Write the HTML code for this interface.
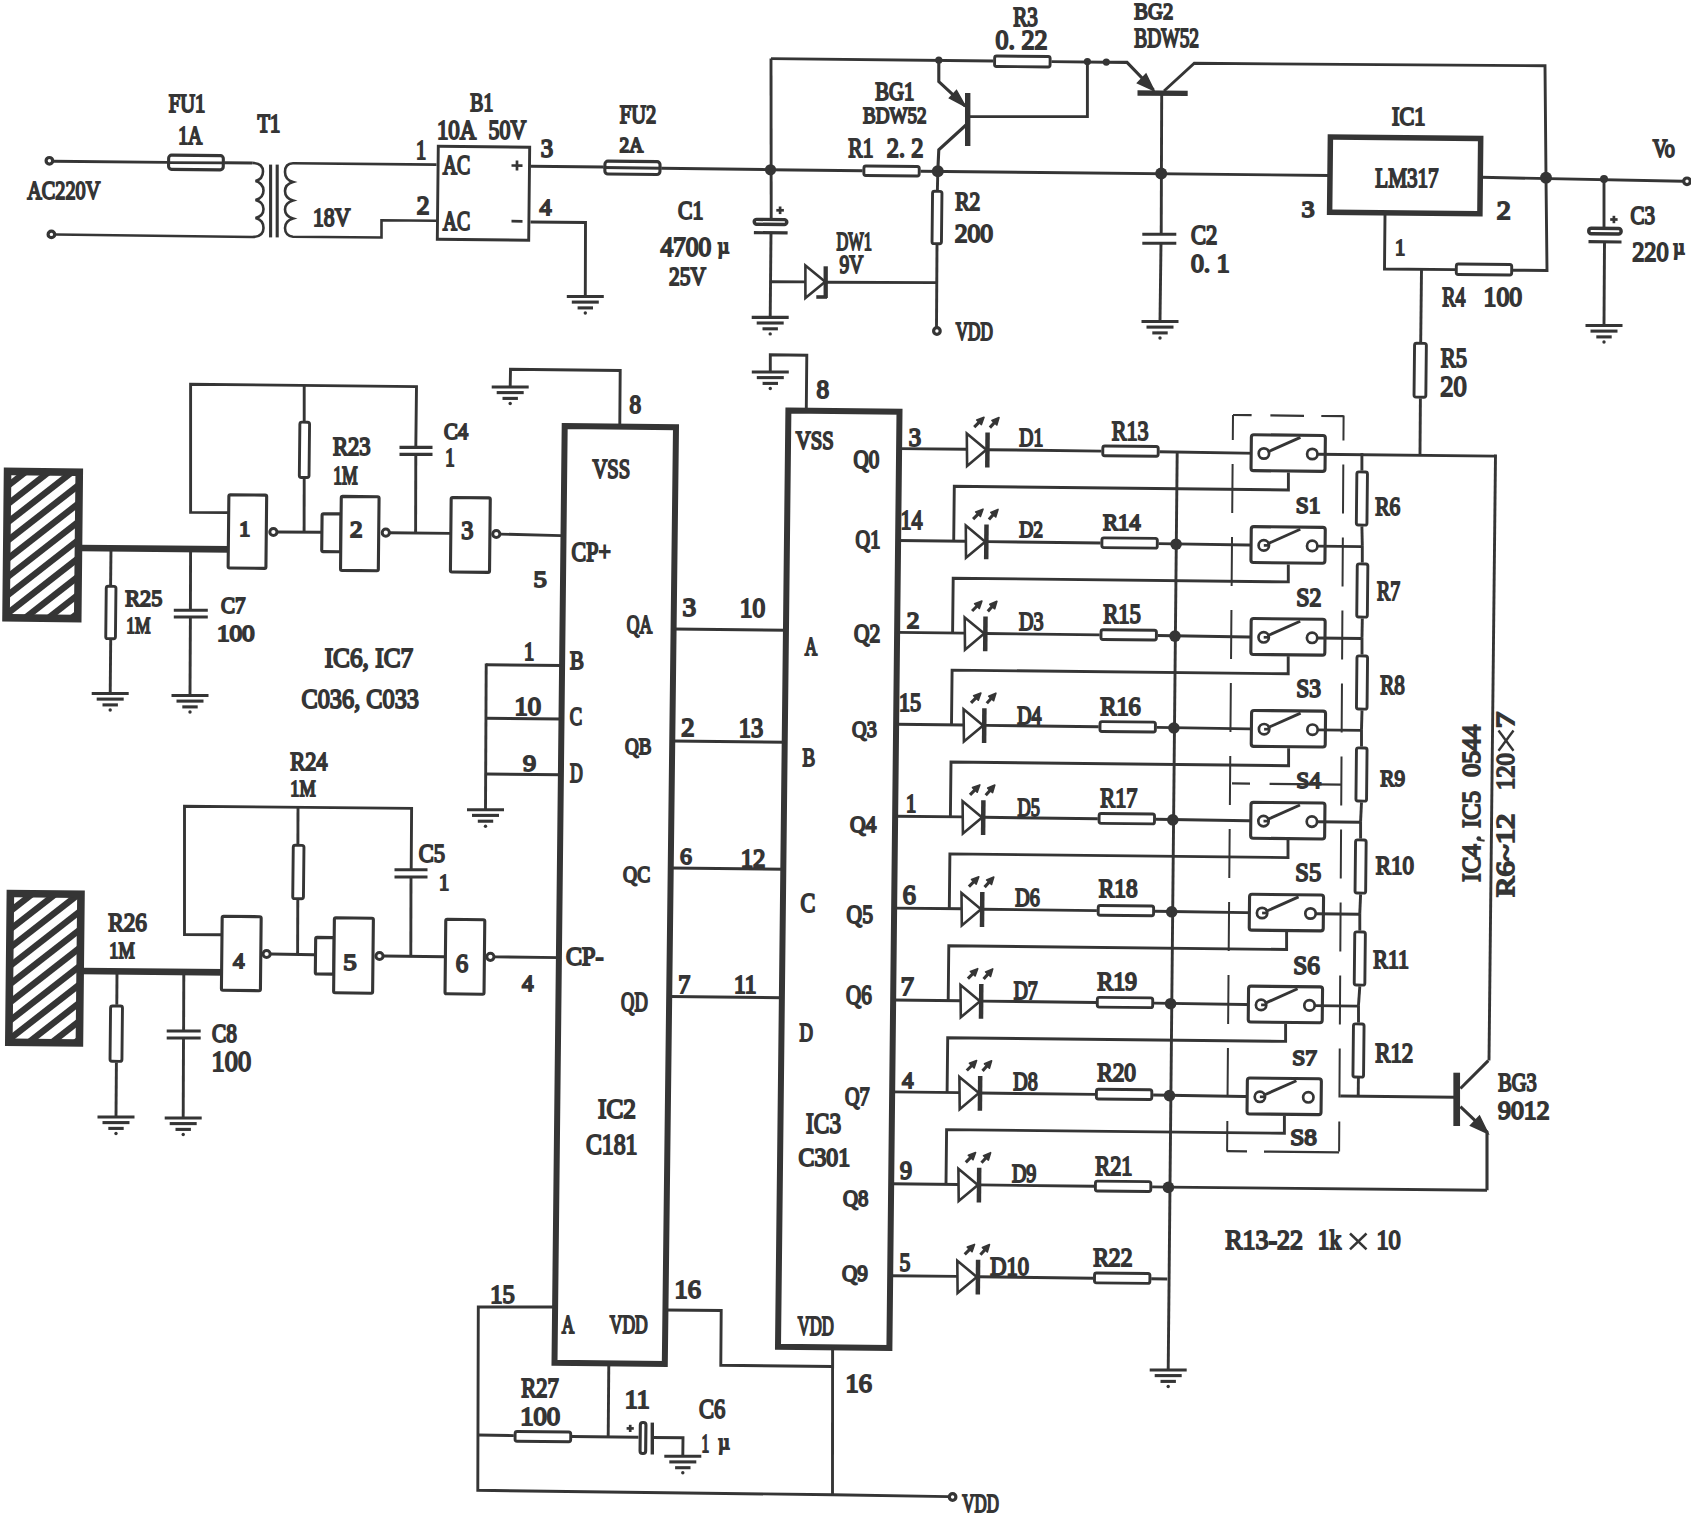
<!DOCTYPE html>
<html><head><meta charset="utf-8"><style>
html,body{margin:0;padding:0;background:#fff;}
svg{display:block;}
text{font-family:"Liberation Serif",serif;font-weight:normal;fill:#353535;stroke:#353535;stroke-width:1.8px;}
</style></head><body>
<svg width="1691" height="1514" viewBox="0 0 1691 1514">
<rect width="1691" height="1514" fill="#fff"/>
<g stroke="#353535" fill="none" stroke-linecap="butt" stroke-linejoin="miter">
<circle cx="49.4" cy="160.8" r="3.3" fill="#fff" stroke-width="3.2"/>
<circle cx="51.4" cy="234.4" r="3.3" fill="#fff" stroke-width="3.2"/>
<line x1="53" y1="161.3" x2="167.2" y2="162.4" stroke-width="2.9"/>
<rect x="168.6" y="155.4" width="54.7" height="14.2" rx="3" stroke-width="3.1" fill="#fff" transform="rotate(0.6 195.9 162.5)"/>
<line x1="167.2" y1="162.6" x2="224.7" y2="162.9" stroke-width="2.9"/>
<line x1="224.7" y1="162.8" x2="252.2" y2="163" stroke-width="2.9"/>
<path d="M252.2,162.9 C259,162.9 263,165.5 263,171.5 C263,177 259.5,180 255.5,181 C259.5,182 263.5,185.5 263.5,190.5 C263.5,196 259.5,199 255.5,200 C259.5,201 263.5,204 263.5,209 C263.5,214 259.5,217 255.5,218 C259.5,219 263.5,222 263.5,228 C263.5,234 259,237 252.2,237 L55.5,234.5" fill="none" stroke-width="2.6"/>
<line x1="270.6" y1="164.6" x2="270.6" y2="237.4" stroke-width="3.1"/>
<line x1="277.2" y1="164.6" x2="277.2" y2="237.4" stroke-width="3.1"/>
<path d="M436.5,164.6 L293,163.2 C287,163.2 285,167 285,172 C285,177 288,180.5 293,182 C288,183.5 285,186.5 285,191 C285,196 288,199 293,200.5 C288,202 285,205 285,209.5 C285,214 288,217 293,218.5 C288,220 285,223 285,228 C285,233 288,236.5 293,236.7 L381.5,237.5 L381.5,220.2 L436.5,220.7" fill="none" stroke-width="2.6"/>
<rect x="437.8" y="146.8" width="91.4" height="92.9" rx="0" stroke-width="2.9" fill="#fff" transform="rotate(0.6 483.5 193.2)"/>
<text x="416.1" y="159.1" font-size="26.3" textLength="10.2" lengthAdjust="spacingAndGlyphs">1</text>
<text x="416.8" y="214.1" font-size="24.7" textLength="12.7" lengthAdjust="spacingAndGlyphs">2</text>
<text x="442.7" y="174.1" font-size="26.3" textLength="27.5" lengthAdjust="spacingAndGlyphs">AC</text>
<text x="442.7" y="230.1" font-size="26.3" textLength="27.5" lengthAdjust="spacingAndGlyphs">AC</text>
<line x1="511.5" y1="165.5" x2="522.5" y2="165.6" stroke-width="2.7"/>
<line x1="517" y1="160.5" x2="517" y2="170.5" stroke-width="2.7"/>
<line x1="511.5" y1="221.2" x2="522.5" y2="221.3" stroke-width="2.7"/>
<text x="540.7" y="157.1" font-size="24.7" textLength="12.3" lengthAdjust="spacingAndGlyphs">3</text>
<text x="539.4" y="215.1" font-size="23.2" textLength="12" lengthAdjust="spacingAndGlyphs">4</text>
<text x="470.3" y="111.1" font-size="24.7" textLength="22.9" lengthAdjust="spacingAndGlyphs">B1</text>
<text x="436.9" y="139.1" font-size="26.3" textLength="39.4" lengthAdjust="spacingAndGlyphs">10A</text>
<text x="488.6" y="139.1" font-size="26.3" textLength="37.7" lengthAdjust="spacingAndGlyphs">50V</text>
<text x="168.8" y="112.1" font-size="24.7" textLength="36.5" lengthAdjust="spacingAndGlyphs">FU1</text>
<text x="178.2" y="144.1" font-size="24.7" textLength="24.1" lengthAdjust="spacingAndGlyphs">1A</text>
<text x="257.5" y="132.1" font-size="24.7" textLength="22.8" lengthAdjust="spacingAndGlyphs">T1</text>
<text x="27.2" y="199.4" font-size="26.1" textLength="73.1" lengthAdjust="spacingAndGlyphs">AC220V</text>
<text x="313" y="226.1" font-size="25.3" textLength="37.3" lengthAdjust="spacingAndGlyphs">18V</text>
<line x1="530.5" y1="166.2" x2="603.5" y2="167" stroke-width="2.9"/>
<rect x="604.9" y="161.4" width="55.1" height="12.8" rx="3" stroke-width="3.1" fill="#fff" transform="rotate(0.6 632.5 167.8)"/>
<line x1="603.5" y1="167.5" x2="661.4" y2="168.3" stroke-width="2.9"/>
<line x1="661.4" y1="168.2" x2="770" y2="169.6" stroke-width="2.9"/>
<polyline points="530.5,222 585.5,222.5 585.3,296.5" stroke-width="2.9" fill="none"/>
<line x1="566.8" y1="296.5" x2="603.8" y2="296.5" stroke-width="3.1"/>
<line x1="571.8" y1="302.1" x2="598.8" y2="302.1" stroke-width="3.1"/>
<line x1="577.6" y1="307.9" x2="593" y2="307.9" stroke-width="3.1"/>
<circle cx="585.3" cy="313" r="1.7" fill="#353535" stroke="none"/>
<text x="619.8" y="123.1" font-size="24.7" textLength="36.4" lengthAdjust="spacingAndGlyphs">FU2</text>
<text x="619.5" y="152.1" font-size="21.7" textLength="23.7" lengthAdjust="spacingAndGlyphs">2A</text>
<text x="678" y="219.1" font-size="25.5" textLength="25.4" lengthAdjust="spacingAndGlyphs">C1</text>
<text x="660.4" y="256.1" font-size="26.3" textLength="50.9" lengthAdjust="spacingAndGlyphs">4700</text>
<text x="717.8" y="252.8" font-size="19.9">&#181;</text>
<text x="669" y="284.7" font-size="25.6" textLength="36.9" lengthAdjust="spacingAndGlyphs">25V</text>
<line x1="771" y1="58.5" x2="771.2" y2="218" stroke-width="2.9"/>
<circle cx="770.5" cy="169.8" r="5.6" fill="#353535" stroke="none"/>
<rect x="754.2" y="219.5" width="32.6" height="4.9" rx="2.5" stroke-width="3.4" fill="#fff" transform="rotate(0.6 770.5 221.9)"/>
<line x1="753.9" y1="232.6" x2="787.6" y2="232.9" stroke-width="3.1"/>
<line x1="776.3" y1="210.3" x2="783.9" y2="210.3" stroke-width="2.7"/>
<line x1="780.1" y1="206.5" x2="780.1" y2="214.1" stroke-width="2.7"/>
<line x1="771" y1="233" x2="770.2" y2="317.4" stroke-width="2.9"/>
<line x1="751.7" y1="317.4" x2="788.7" y2="317.4" stroke-width="3.1"/>
<line x1="756.7" y1="323" x2="783.7" y2="323" stroke-width="3.1"/>
<line x1="762.5" y1="328.8" x2="777.9" y2="328.8" stroke-width="3.1"/>
<circle cx="770.2" cy="333.9" r="1.7" fill="#353535" stroke="none"/>
<line x1="771" y1="281.7" x2="805.4" y2="281.9" stroke-width="2.9"/>
<path d="M805.4,265.5 L825.2,281.7 L805.4,298 Z" fill="#fff" stroke-width="2.6"/>
<line x1="825.7" y1="266.3" x2="825.7" y2="298" stroke-width="4.3"/>
<line x1="816.3" y1="297" x2="827" y2="297" stroke-width="3.6"/>
<line x1="827" y1="282.2" x2="937" y2="282.6" stroke-width="2.9"/>
<text x="836.5" y="249.6" font-size="25.3" textLength="35.4" lengthAdjust="spacingAndGlyphs">DW1</text>
<text x="839.4" y="273.3" font-size="26" textLength="23.8" lengthAdjust="spacingAndGlyphs">9V</text>
<rect x="863.9" y="166.3" width="55.3" height="9.4" rx="2" stroke-width="2.9" fill="#fff" transform="rotate(0.6 891.5 171)"/>
<line x1="770.5" y1="169.8" x2="862.6" y2="170.8" stroke-width="2.9"/>
<line x1="920.5" y1="171.2" x2="1329" y2="175.5" stroke-width="2.9"/>
<text x="848.3" y="157.1" font-size="27.8" textLength="25.1" lengthAdjust="spacingAndGlyphs">R1</text>
<text x="886.8" y="157.1" font-size="27.8" textLength="36.6" lengthAdjust="spacingAndGlyphs">2. 2</text>
<circle cx="937.8" cy="171.2" r="6" fill="#353535" stroke="none"/>
<line x1="771" y1="58.6" x2="993.3" y2="61" stroke-width="2.9"/>
<circle cx="938.8" cy="60.2" r="3.6" fill="#353535" stroke="none"/>
<rect x="994.6" y="56.3" width="55.5" height="10.4" rx="2" stroke-width="2.9" fill="#fff" transform="rotate(0.6 1022.4 61.5)"/>
<line x1="1051.4" y1="61.6" x2="1106.3" y2="62.2" stroke-width="2.9"/>
<circle cx="1087.4" cy="61.6" r="3.6" fill="#353535" stroke="none"/>
<circle cx="1106.3" cy="62.1" r="3.6" fill="#353535" stroke="none"/>
<text x="1013.3" y="26.1" font-size="26.3" textLength="24.6" lengthAdjust="spacingAndGlyphs">R3</text>
<text x="995.6" y="49.1" font-size="26.3" textLength="51.9" lengthAdjust="spacingAndGlyphs">0. 22</text>
<polyline points="938.8,60 938.8,81.6 965.3,106.2" stroke-width="3.1" fill="none"/>
<path d="M965.5,106.5 L949.5,98 L956.5,90.5 Z" fill="#353535" stroke-width="1.5"/>
<line x1="967.7" y1="93" x2="967.7" y2="146" stroke-width="5.4"/>
<polyline points="970,116.6 1087.4,116.6 1087.4,61.5" stroke-width="2.9" fill="none"/>
<polyline points="966,125 938.8,149.8 937.8,171" stroke-width="3.1" fill="none"/>
<text x="875.3" y="100.1" font-size="25.3" textLength="39" lengthAdjust="spacingAndGlyphs">BG1</text>
<text x="862.9" y="123.1" font-size="24" textLength="63.7" lengthAdjust="spacingAndGlyphs">BDW52</text>
<polyline points="1106.3,62.2 1127,62.4 1153.6,90" stroke-width="3.1" fill="none"/>
<path d="M1154,90.5 L1137.5,83 L1146,74 Z" fill="#353535" stroke-width="1.5"/>
<line x1="1137.5" y1="93" x2="1187.7" y2="93.4" stroke-width="5.4"/>
<polyline points="1164,91 1194.3,63.3 1545,65.8 1546,177.6" stroke-width="2.9" fill="none"/>
<line x1="1161.7" y1="94" x2="1161.2" y2="234" stroke-width="2.9"/>
<circle cx="1161.2" cy="173.5" r="6" fill="#353535" stroke="none"/>
<text x="1134.3" y="18.6" font-size="24" textLength="38.9" lengthAdjust="spacingAndGlyphs">BG2</text>
<text x="1134.3" y="47.1" font-size="27" textLength="64.8" lengthAdjust="spacingAndGlyphs">BDW52</text>
<line x1="937.8" y1="171.2" x2="937.4" y2="190" stroke-width="2.9"/>
<rect x="932.3" y="191.3" width="9.4" height="52.4" rx="2" stroke-width="2.9" fill="#fff" transform="rotate(0.6 937 217.5)"/>
<line x1="937" y1="245" x2="936.5" y2="327" stroke-width="2.9"/>
<circle cx="936.9" cy="331" r="3.3" fill="#fff" stroke-width="3.2"/>
<text x="955.3" y="210.1" font-size="24.7" textLength="25" lengthAdjust="spacingAndGlyphs">R2</text>
<text x="954.8" y="242.1" font-size="25.3" textLength="38.3" lengthAdjust="spacingAndGlyphs">200</text>
<text x="955.7" y="339.8" font-size="24.3" textLength="37.1" lengthAdjust="spacingAndGlyphs">VDD</text>
<line x1="1142.3" y1="234.2" x2="1176.3" y2="234.2" stroke-width="3.1"/>
<line x1="1142.3" y1="243.2" x2="1176.3" y2="243.2" stroke-width="3.1"/>
<line x1="1161" y1="243.5" x2="1160" y2="321.5" stroke-width="2.9"/>
<line x1="1141.5" y1="321.5" x2="1178.5" y2="321.5" stroke-width="3.1"/>
<line x1="1146.5" y1="327.1" x2="1173.5" y2="327.1" stroke-width="3.1"/>
<line x1="1152.3" y1="332.9" x2="1167.7" y2="332.9" stroke-width="3.1"/>
<circle cx="1160" cy="338" r="1.7" fill="#353535" stroke="none"/>
<text x="1191" y="244.1" font-size="26.3" textLength="26.4" lengthAdjust="spacingAndGlyphs">C2</text>
<text x="1190.9" y="272.1" font-size="24.7" textLength="38.7" lengthAdjust="spacingAndGlyphs">0. 1</text>
<rect x="1330" y="137.8" width="150.3" height="75.2" rx="0" stroke-width="5.5" fill="#fff" transform="rotate(0.6 1405.2 175.4)"/>
<text x="1392.1" y="125.1" font-size="24.7" textLength="33.3" lengthAdjust="spacingAndGlyphs">IC1</text>
<text x="1375.3" y="187.1" font-size="27.8" textLength="63.4" lengthAdjust="spacingAndGlyphs">LM317</text>
<text x="1301.6" y="217.1" font-size="24" textLength="13.1" lengthAdjust="spacingAndGlyphs">3</text>
<text x="1496.7" y="219.1" font-size="24.7" textLength="14" lengthAdjust="spacingAndGlyphs">2</text>
<text x="1395.1" y="254.6" font-size="24" textLength="10.2" lengthAdjust="spacingAndGlyphs">1</text>
<line x1="1481" y1="177.3" x2="1683" y2="181.3" stroke-width="2.9"/>
<circle cx="1546" cy="177.7" r="6" fill="#353535" stroke="none"/>
<circle cx="1604" cy="179" r="4" fill="#353535" stroke="none"/>
<circle cx="1687" cy="181.3" r="3.3" fill="#fff" stroke-width="3.2"/>
<text x="1652.7" y="157.1" font-size="24.7" textLength="22.1" lengthAdjust="spacingAndGlyphs">Vo</text>
<polyline points="1385,214.7 1384.5,269 1455,269.6" stroke-width="2.9" fill="none"/>
<rect x="1456.3" y="264.3" width="55.4" height="10.4" rx="2" stroke-width="2.9" fill="#fff" transform="rotate(0.6 1484 269.5)"/>
<polyline points="1513,270.2 1547,270.5 1546,177.6" stroke-width="2.9" fill="none"/>
<text x="1442.3" y="306.1" font-size="26.3" textLength="23.1" lengthAdjust="spacingAndGlyphs">R4</text>
<text x="1483.6" y="306.1" font-size="26.3" textLength="38.4" lengthAdjust="spacingAndGlyphs">100</text>
<line x1="1421.5" y1="269.8" x2="1420.7" y2="342.5" stroke-width="2.9"/>
<rect x="1414.3" y="343.3" width="11.8" height="53.9" rx="2" stroke-width="2.9" fill="#fff" transform="rotate(0.6 1420.2 370.2)"/>
<line x1="1420.4" y1="398.5" x2="1420" y2="454" stroke-width="2.9"/>
<text x="1440.8" y="367.1" font-size="26.3" textLength="26.2" lengthAdjust="spacingAndGlyphs">R5</text>
<text x="1440.2" y="396.1" font-size="28.5" textLength="26.4" lengthAdjust="spacingAndGlyphs">20</text>
<line x1="1604" y1="179" x2="1604" y2="231" stroke-width="2.9"/>
<rect x="1588.8" y="228.3" width="32.3" height="5.6" rx="2.5" stroke-width="3.5" fill="#fff" transform="rotate(0.6 1604.9 231.1)"/>
<line x1="1588.5" y1="241.6" x2="1621.5" y2="242" stroke-width="3.1"/>
<line x1="1610.2" y1="219.5" x2="1617.6" y2="219.5" stroke-width="2.7"/>
<line x1="1613.9" y1="215.8" x2="1613.9" y2="223.2" stroke-width="2.7"/>
<line x1="1604.5" y1="242" x2="1604" y2="325.5" stroke-width="2.9"/>
<line x1="1585.5" y1="325.5" x2="1622.5" y2="325.5" stroke-width="3.1"/>
<line x1="1590.5" y1="331.1" x2="1617.5" y2="331.1" stroke-width="3.1"/>
<line x1="1596.3" y1="336.9" x2="1611.7" y2="336.9" stroke-width="3.1"/>
<circle cx="1604" cy="342" r="1.7" fill="#353535" stroke="none"/>
<text x="1630.5" y="224.1" font-size="24.7" textLength="24.4" lengthAdjust="spacingAndGlyphs">C3</text>
<text x="1632.2" y="260.5" font-size="27.9" textLength="36.4" lengthAdjust="spacingAndGlyphs">220</text>
<text x="1673.3" y="254.1" font-size="19.9">&#181;</text>
<clipPath id="h1"><rect x="6.8" y="471.8" width="71.7" height="146.4" transform="rotate(0.6 42.7 545)"/></clipPath>
<g clip-path="url(#h1)"><line x1="3.4" y1="252.7" x2="81.9" y2="191.4" stroke-width="6.4"/><line x1="3.4" y1="270.9" x2="81.9" y2="209.6" stroke-width="6.4"/><line x1="3.4" y1="289.1" x2="81.9" y2="227.8" stroke-width="6.4"/><line x1="3.4" y1="307.3" x2="81.9" y2="246" stroke-width="6.4"/><line x1="3.4" y1="325.5" x2="81.9" y2="264.2" stroke-width="6.4"/><line x1="3.4" y1="343.7" x2="81.9" y2="282.4" stroke-width="6.4"/><line x1="3.4" y1="361.9" x2="81.9" y2="300.6" stroke-width="6.4"/><line x1="3.4" y1="380.1" x2="81.9" y2="318.8" stroke-width="6.4"/><line x1="3.4" y1="398.3" x2="81.9" y2="337" stroke-width="6.4"/><line x1="3.4" y1="416.5" x2="81.9" y2="355.2" stroke-width="6.4"/><line x1="3.4" y1="434.7" x2="81.9" y2="373.4" stroke-width="6.4"/><line x1="3.4" y1="452.9" x2="81.9" y2="391.6" stroke-width="6.4"/><line x1="3.4" y1="471.1" x2="81.9" y2="409.8" stroke-width="6.4"/><line x1="3.4" y1="489.3" x2="81.9" y2="428" stroke-width="6.4"/><line x1="3.4" y1="507.5" x2="81.9" y2="446.2" stroke-width="6.4"/><line x1="3.4" y1="525.7" x2="81.9" y2="464.4" stroke-width="6.4"/><line x1="3.4" y1="543.9" x2="81.9" y2="482.6" stroke-width="6.4"/><line x1="3.4" y1="562.1" x2="81.9" y2="500.8" stroke-width="6.4"/><line x1="3.4" y1="580.3" x2="81.9" y2="519" stroke-width="6.4"/><line x1="3.4" y1="598.5" x2="81.9" y2="537.2" stroke-width="6.4"/><line x1="3.4" y1="616.7" x2="81.9" y2="555.4" stroke-width="6.4"/><line x1="3.4" y1="634.9" x2="81.9" y2="573.6" stroke-width="6.4"/><line x1="3.4" y1="653.1" x2="81.9" y2="591.8" stroke-width="6.4"/><line x1="3.4" y1="671.3" x2="81.9" y2="610" stroke-width="6.4"/><line x1="3.4" y1="689.5" x2="81.9" y2="628.2" stroke-width="6.4"/><line x1="3.4" y1="707.7" x2="81.9" y2="646.4" stroke-width="6.4"/><line x1="3.4" y1="725.9" x2="81.9" y2="664.6" stroke-width="6.4"/><line x1="3.4" y1="744.1" x2="81.9" y2="682.8" stroke-width="6.4"/><line x1="3.4" y1="762.3" x2="81.9" y2="701" stroke-width="6.4"/><line x1="3.4" y1="780.5" x2="81.9" y2="719.2" stroke-width="6.4"/><line x1="3.4" y1="798.7" x2="81.9" y2="737.4" stroke-width="6.4"/><line x1="3.4" y1="816.9" x2="81.9" y2="755.6" stroke-width="6.4"/><line x1="3.4" y1="835.1" x2="81.9" y2="773.8" stroke-width="6.4"/><line x1="3.4" y1="853.3" x2="81.9" y2="792" stroke-width="6.4"/></g>
<rect x="6.8" y="471.8" width="71.7" height="146.4" rx="0" stroke-width="7.6" fill="none" transform="rotate(0.6 42.7 545)"/>
<line x1="80" y1="548" x2="229.7" y2="549.3" stroke-width="6.7"/>
<line x1="111" y1="548.3" x2="110.6" y2="585.5" stroke-width="2.9"/>
<rect x="106" y="586.3" width="9.7" height="52.4" rx="2" stroke-width="2.9" fill="#fff" transform="rotate(0.6 110.8 612.5)"/>
<line x1="110.7" y1="640" x2="110.2" y2="693.5" stroke-width="2.9"/>
<line x1="91.7" y1="693.5" x2="128.7" y2="693.5" stroke-width="3.1"/>
<line x1="96.7" y1="699.1" x2="123.7" y2="699.1" stroke-width="3.1"/>
<line x1="102.5" y1="704.9" x2="117.9" y2="704.9" stroke-width="3.1"/>
<circle cx="110.2" cy="710" r="1.7" fill="#353535" stroke="none"/>
<text x="125.3" y="606.1" font-size="23.2" textLength="37" lengthAdjust="spacingAndGlyphs">R25</text>
<text x="126.2" y="632.7" font-size="24.1" textLength="24.2" lengthAdjust="spacingAndGlyphs">1M</text>
<line x1="190.6" y1="549" x2="190.4" y2="610" stroke-width="2.9"/>
<line x1="173.8" y1="610.2" x2="207.8" y2="610.2" stroke-width="3.1"/>
<line x1="173.8" y1="617" x2="207.8" y2="617" stroke-width="3.1"/>
<line x1="190.4" y1="617" x2="190" y2="695.5" stroke-width="2.9"/>
<line x1="171.5" y1="695.5" x2="208.5" y2="695.5" stroke-width="3.1"/>
<line x1="176.5" y1="701.1" x2="203.5" y2="701.1" stroke-width="3.1"/>
<line x1="182.3" y1="706.9" x2="197.7" y2="706.9" stroke-width="3.1"/>
<circle cx="190" cy="712" r="1.7" fill="#353535" stroke="none"/>
<text x="220.9" y="613.1" font-size="23.2" textLength="24.5" lengthAdjust="spacingAndGlyphs">C7</text>
<text x="216.9" y="640.7" font-size="23.1" textLength="37.8" lengthAdjust="spacingAndGlyphs">100</text>
<rect x="228.5" y="494.9" width="37.8" height="73.3" rx="1.5" stroke-width="3.1" fill="#fff" transform="rotate(0.6 247.4 531.5)"/>
<text x="239.3" y="535.9" font-size="20.8" textLength="10.9" lengthAdjust="spacingAndGlyphs">1</text>
<circle cx="273.4" cy="532" r="3.6" fill="#fff" stroke-width="3"/>
<polyline points="228.5,512.6 190.6,512.4 190.6,384.2 416.5,386.6 415.8,447.4" stroke-width="2.9" fill="none"/>
<line x1="415.8" y1="454.4" x2="415.6" y2="533" stroke-width="2.9"/>
<line x1="399.5" y1="447.4" x2="432.5" y2="447.4" stroke-width="3.1"/>
<line x1="399.5" y1="454.4" x2="432.5" y2="454.4" stroke-width="3.1"/>
<text x="443.9" y="438.9" font-size="22.6" textLength="24.2" lengthAdjust="spacingAndGlyphs">C4</text>
<text x="445.3" y="466.1" font-size="24.4" textLength="9.4" lengthAdjust="spacingAndGlyphs">1</text>
<line x1="304.2" y1="385.4" x2="304.2" y2="421" stroke-width="2.9"/>
<rect x="299.6" y="422.2" width="9.7" height="55.3" rx="2" stroke-width="2.9" fill="#fff" transform="rotate(0.6 304.5 449.9)"/>
<line x1="304.2" y1="478.8" x2="304.1" y2="532" stroke-width="2.9"/>
<text x="332.9" y="455.4" font-size="24.3" textLength="37.5" lengthAdjust="spacingAndGlyphs">R23</text>
<text x="333.2" y="483.8" font-size="24.3" textLength="24.4" lengthAdjust="spacingAndGlyphs">1M</text>
<line x1="277.3" y1="532" x2="321.9" y2="532.3" stroke-width="2.9"/>
<rect x="321.9" y="513.8" width="19" height="37.9" rx="1.5" stroke-width="3.1" fill="#fff" transform="rotate(0.6 331.4 532.8)"/>
<rect x="340.9" y="496.6" width="37.8" height="74" rx="1.5" stroke-width="3.1" fill="#fff" transform="rotate(0.6 359.8 533.6)"/>
<text x="350.1" y="537.1" font-size="22.6" textLength="12.5" lengthAdjust="spacingAndGlyphs">2</text>
<circle cx="385.8" cy="532.7" r="3.6" fill="#fff" stroke-width="3"/>
<line x1="389.6" y1="532.7" x2="450.8" y2="533.4" stroke-width="2.9"/>
<rect x="450.8" y="497.7" width="39.1" height="74.5" rx="1.5" stroke-width="3.1" fill="#fff" transform="rotate(0.6 470.4 535)"/>
<text x="461.2" y="539.4" font-size="24.3" textLength="12.1" lengthAdjust="spacingAndGlyphs">3</text>
<circle cx="496.3" cy="534" r="3.6" fill="#fff" stroke-width="3"/>
<line x1="500.1" y1="534.1" x2="561" y2="535.6" stroke-width="2.9"/>
<text x="324.7" y="667.1" font-size="27.8" textLength="88.5" lengthAdjust="spacingAndGlyphs">IC6, IC7</text>
<text x="301.5" y="708.1" font-size="27.8" textLength="117.5" lengthAdjust="spacingAndGlyphs">C036, C033</text>
<clipPath id="h2"><rect x="9.6" y="893.9" width="70.6" height="148.7" transform="rotate(0.6 44.9 968.2)"/></clipPath>
<g clip-path="url(#h2)"><line x1="6.2" y1="677.7" x2="83.6" y2="617.3" stroke-width="6.4"/><line x1="6.2" y1="695.9" x2="83.6" y2="635.5" stroke-width="6.4"/><line x1="6.2" y1="714.1" x2="83.6" y2="653.7" stroke-width="6.4"/><line x1="6.2" y1="732.3" x2="83.6" y2="671.9" stroke-width="6.4"/><line x1="6.2" y1="750.5" x2="83.6" y2="690.1" stroke-width="6.4"/><line x1="6.2" y1="768.7" x2="83.6" y2="708.3" stroke-width="6.4"/><line x1="6.2" y1="786.9" x2="83.6" y2="726.5" stroke-width="6.4"/><line x1="6.2" y1="805.1" x2="83.6" y2="744.7" stroke-width="6.4"/><line x1="6.2" y1="823.3" x2="83.6" y2="762.9" stroke-width="6.4"/><line x1="6.2" y1="841.5" x2="83.6" y2="781.1" stroke-width="6.4"/><line x1="6.2" y1="859.7" x2="83.6" y2="799.3" stroke-width="6.4"/><line x1="6.2" y1="877.9" x2="83.6" y2="817.5" stroke-width="6.4"/><line x1="6.2" y1="896.1" x2="83.6" y2="835.7" stroke-width="6.4"/><line x1="6.2" y1="914.3" x2="83.6" y2="853.9" stroke-width="6.4"/><line x1="6.2" y1="932.5" x2="83.6" y2="872.1" stroke-width="6.4"/><line x1="6.2" y1="950.7" x2="83.6" y2="890.3" stroke-width="6.4"/><line x1="6.2" y1="968.9" x2="83.6" y2="908.5" stroke-width="6.4"/><line x1="6.2" y1="987.1" x2="83.6" y2="926.7" stroke-width="6.4"/><line x1="6.2" y1="1005.3" x2="83.6" y2="944.9" stroke-width="6.4"/><line x1="6.2" y1="1023.5" x2="83.6" y2="963.1" stroke-width="6.4"/><line x1="6.2" y1="1041.7" x2="83.6" y2="981.3" stroke-width="6.4"/><line x1="6.2" y1="1059.9" x2="83.6" y2="999.5" stroke-width="6.4"/><line x1="6.2" y1="1078.1" x2="83.6" y2="1017.7" stroke-width="6.4"/><line x1="6.2" y1="1096.3" x2="83.6" y2="1035.9" stroke-width="6.4"/><line x1="6.2" y1="1114.5" x2="83.6" y2="1054.1" stroke-width="6.4"/><line x1="6.2" y1="1132.7" x2="83.6" y2="1072.3" stroke-width="6.4"/><line x1="6.2" y1="1150.9" x2="83.6" y2="1090.5" stroke-width="6.4"/><line x1="6.2" y1="1169.1" x2="83.6" y2="1108.7" stroke-width="6.4"/><line x1="6.2" y1="1187.3" x2="83.6" y2="1126.9" stroke-width="6.4"/><line x1="6.2" y1="1205.5" x2="83.6" y2="1145.1" stroke-width="6.4"/><line x1="6.2" y1="1223.7" x2="83.6" y2="1163.3" stroke-width="6.4"/><line x1="6.2" y1="1241.9" x2="83.6" y2="1181.5" stroke-width="6.4"/><line x1="6.2" y1="1260.1" x2="83.6" y2="1199.7" stroke-width="6.4"/><line x1="6.2" y1="1278.3" x2="83.6" y2="1217.9" stroke-width="6.4"/></g>
<rect x="9.6" y="893.9" width="70.6" height="148.7" rx="0" stroke-width="7.6" fill="none" transform="rotate(0.6 44.9 968.2)"/>
<line x1="81" y1="971" x2="224.5" y2="972.4" stroke-width="6.7"/>
<line x1="117" y1="971.3" x2="116.8" y2="1004.7" stroke-width="2.9"/>
<rect x="110.3" y="1006" width="11.9" height="55.3" rx="2" stroke-width="2.9" fill="#fff" transform="rotate(0.6 116.2 1033.7)"/>
<line x1="116.4" y1="1062.6" x2="116" y2="1117" stroke-width="2.9"/>
<line x1="97.5" y1="1117" x2="134.5" y2="1117" stroke-width="3.1"/>
<line x1="102.5" y1="1122.6" x2="129.5" y2="1122.6" stroke-width="3.1"/>
<line x1="108.3" y1="1128.4" x2="123.7" y2="1128.4" stroke-width="3.1"/>
<circle cx="116" cy="1133.5" r="1.7" fill="#353535" stroke="none"/>
<text x="108.2" y="931.1" font-size="25.3" textLength="38.6" lengthAdjust="spacingAndGlyphs">R26</text>
<text x="109.3" y="957.7" font-size="22.6" textLength="25.3" lengthAdjust="spacingAndGlyphs">1M</text>
<line x1="183.8" y1="972" x2="183.6" y2="1031" stroke-width="2.9"/>
<line x1="166.7" y1="1031" x2="200.7" y2="1031" stroke-width="3.1"/>
<line x1="166.7" y1="1038" x2="200.7" y2="1038" stroke-width="3.1"/>
<line x1="183.5" y1="1038" x2="183.2" y2="1118" stroke-width="2.9"/>
<line x1="164.7" y1="1118" x2="201.7" y2="1118" stroke-width="3.1"/>
<line x1="169.7" y1="1123.6" x2="196.7" y2="1123.6" stroke-width="3.1"/>
<line x1="175.5" y1="1129.4" x2="190.9" y2="1129.4" stroke-width="3.1"/>
<circle cx="183.2" cy="1134.5" r="1.7" fill="#353535" stroke="none"/>
<text x="212" y="1042.1" font-size="25.5" textLength="24.9" lengthAdjust="spacingAndGlyphs">C8</text>
<text x="211.6" y="1070.6" font-size="28.5" textLength="39.5" lengthAdjust="spacingAndGlyphs">100</text>
<rect x="221.8" y="916.5" width="39" height="74" rx="1.5" stroke-width="3.1" fill="#fff" transform="rotate(0.6 241.3 953.5)"/>
<text x="233.1" y="968.1" font-size="21.7" textLength="11.4" lengthAdjust="spacingAndGlyphs">4</text>
<circle cx="266.6" cy="954" r="3.6" fill="#fff" stroke-width="3"/>
<polyline points="221.8,934.8 184.5,934.6 184.5,806.2 411.6,808.4 411.2,870" stroke-width="2.9" fill="none"/>
<line x1="394.5" y1="869.8" x2="427.5" y2="869.8" stroke-width="3.1"/>
<line x1="394.5" y1="877" x2="427.5" y2="877" stroke-width="3.1"/>
<line x1="411" y1="877" x2="410.8" y2="956" stroke-width="2.9"/>
<text x="418.7" y="861.8" font-size="25.8" textLength="26.3" lengthAdjust="spacingAndGlyphs">C5</text>
<text x="439.1" y="890.1" font-size="24.1" textLength="10.2" lengthAdjust="spacingAndGlyphs">1</text>
<line x1="298" y1="807.3" x2="297.9" y2="844" stroke-width="2.9"/>
<rect x="293" y="845.3" width="10.7" height="53.4" rx="2" stroke-width="2.9" fill="#fff" transform="rotate(0.6 298.4 872)"/>
<line x1="297.8" y1="900" x2="297.6" y2="954.6" stroke-width="2.9"/>
<text x="290.3" y="769.6" font-size="25.5" textLength="37.2" lengthAdjust="spacingAndGlyphs">R24</text>
<text x="290.3" y="796.1" font-size="23.2" textLength="25.3" lengthAdjust="spacingAndGlyphs">1M</text>
<line x1="270.4" y1="954" x2="315" y2="954.8" stroke-width="2.9"/>
<rect x="315.5" y="937.5" width="18.5" height="36.5" rx="1.5" stroke-width="3.1" fill="#fff" transform="rotate(0.6 324.8 955.8)"/>
<rect x="334" y="918" width="39" height="75" rx="1.5" stroke-width="3.1" fill="#fff" transform="rotate(0.6 353.5 955.5)"/>
<text x="343.3" y="970.1" font-size="23.2" textLength="13.4" lengthAdjust="spacingAndGlyphs">5</text>
<circle cx="379.5" cy="956" r="3.6" fill="#fff" stroke-width="3"/>
<line x1="383.3" y1="956" x2="445.4" y2="956.8" stroke-width="2.9"/>
<rect x="445.4" y="919.5" width="39" height="74.5" rx="1.5" stroke-width="3.1" fill="#fff" transform="rotate(0.6 464.9 956.8)"/>
<text x="455.8" y="971.9" font-size="26" textLength="12.4" lengthAdjust="spacingAndGlyphs">6</text>
<circle cx="490.4" cy="956.8" r="3.6" fill="#fff" stroke-width="3"/>
<line x1="494.2" y1="956.9" x2="559.5" y2="957.6" stroke-width="2.9"/>
<polygon points="564.7,426 676,427.2 664.8,1364 554.5,1362.8" stroke-width="6" fill="none"/>
<polygon points="788.4,410.5 899.5,411.7 889.4,1348 778,1346.8" stroke-width="6" fill="none"/>
<text x="629.4" y="412.7" font-size="24.7" textLength="11.6" lengthAdjust="spacingAndGlyphs">8</text>
<polyline points="619.8,424 620.2,370.5 510.5,369.3 510.2,387" stroke-width="2.9" fill="none"/>
<line x1="491.7" y1="387" x2="528.7" y2="387" stroke-width="3.1"/>
<line x1="496.7" y1="392.6" x2="523.7" y2="392.6" stroke-width="3.1"/>
<line x1="502.5" y1="398.4" x2="517.9" y2="398.4" stroke-width="3.1"/>
<circle cx="510.2" cy="403.5" r="1.7" fill="#353535" stroke="none"/>
<text x="592.4" y="477.9" font-size="26.4" textLength="37.9" lengthAdjust="spacingAndGlyphs">VSS</text>
<text x="571.6" y="561.1" font-size="26.3" textLength="39.2" lengthAdjust="spacingAndGlyphs">CP+</text>
<text x="533.4" y="587.1" font-size="23.7" textLength="13.3" lengthAdjust="spacingAndGlyphs">5</text>
<text x="626.8" y="633.1" font-size="24.7" textLength="25.5" lengthAdjust="spacingAndGlyphs">QA</text>
<text x="682.6" y="616.1" font-size="24.7" textLength="13.6" lengthAdjust="spacingAndGlyphs">3</text>
<text x="739.7" y="617.1" font-size="26.3" textLength="25.4" lengthAdjust="spacingAndGlyphs">10</text>
<line x1="673.6" y1="629" x2="786" y2="630.2" stroke-width="2.9"/>
<text x="625.1" y="754.1" font-size="23.2" textLength="26.4" lengthAdjust="spacingAndGlyphs">QB</text>
<text x="681.3" y="735.9" font-size="24.4" textLength="13.2" lengthAdjust="spacingAndGlyphs">2</text>
<text x="738.8" y="737.1" font-size="26.3" textLength="24.3" lengthAdjust="spacingAndGlyphs">13</text>
<line x1="672.3" y1="741" x2="784.7" y2="742.2" stroke-width="2.9"/>
<text x="623.1" y="882.1" font-size="24" textLength="27.1" lengthAdjust="spacingAndGlyphs">QC</text>
<text x="679.9" y="863.6" font-size="24" textLength="11.9" lengthAdjust="spacingAndGlyphs">6</text>
<text x="740.7" y="867.1" font-size="25.3" textLength="24.7" lengthAdjust="spacingAndGlyphs">12</text>
<line x1="670.8" y1="868" x2="783.3" y2="869.2" stroke-width="2.9"/>
<text x="621.1" y="1011.1" font-size="26.3" textLength="26.7" lengthAdjust="spacingAndGlyphs">QD</text>
<text x="678.3" y="993.1" font-size="25.5" textLength="12" lengthAdjust="spacingAndGlyphs">7</text>
<text x="733.9" y="993.1" font-size="24.7" textLength="22.5" lengthAdjust="spacingAndGlyphs">11</text>
<line x1="669.2" y1="996.5" x2="781.9" y2="997.7" stroke-width="2.9"/>
<text x="524.1" y="660.1" font-size="24.7" textLength="10.2" lengthAdjust="spacingAndGlyphs">1</text>
<text x="569.9" y="669.1" font-size="24.7" textLength="13.9" lengthAdjust="spacingAndGlyphs">B</text>
<text x="514.6" y="715.1" font-size="24.7" textLength="26.5" lengthAdjust="spacingAndGlyphs">10</text>
<text x="569.7" y="725.1" font-size="25.3" textLength="12.4" lengthAdjust="spacingAndGlyphs">C</text>
<text x="523.1" y="771.1" font-size="24" textLength="13.1" lengthAdjust="spacingAndGlyphs">9</text>
<text x="570" y="782.1" font-size="26.3" textLength="12.8" lengthAdjust="spacingAndGlyphs">D</text>
<line x1="486" y1="664.7" x2="562.1" y2="665.5" stroke-width="2.9"/>
<line x1="486" y1="718.3" x2="561.5" y2="719" stroke-width="2.9"/>
<line x1="485.6" y1="774" x2="560.9" y2="774.7" stroke-width="2.9"/>
<line x1="486.2" y1="663.5" x2="485.5" y2="809.8" stroke-width="2.9"/>
<line x1="467" y1="809.8" x2="504" y2="809.8" stroke-width="3.1"/>
<line x1="472" y1="815.4" x2="499" y2="815.4" stroke-width="3.1"/>
<line x1="477.8" y1="821.2" x2="493.2" y2="821.2" stroke-width="3.1"/>
<circle cx="485.5" cy="826.3" r="1.7" fill="#353535" stroke="none"/>
<text x="565.9" y="964.8" font-size="25.8" textLength="37.6" lengthAdjust="spacingAndGlyphs">CP-</text>
<text x="522.1" y="991.1" font-size="22.4" textLength="11.4" lengthAdjust="spacingAndGlyphs">4</text>
<text x="598" y="1118.1" font-size="27.8" textLength="38" lengthAdjust="spacingAndGlyphs">IC2</text>
<text x="585.9" y="1154.1" font-size="28.4" textLength="51.6" lengthAdjust="spacingAndGlyphs">C181</text>
<text x="561.7" y="1333.1" font-size="25.5" textLength="12.5" lengthAdjust="spacingAndGlyphs">A</text>
<text x="609.7" y="1333.1" font-size="25.5" textLength="38.1" lengthAdjust="spacingAndGlyphs">VDD</text>
<text x="674.6" y="1297.7" font-size="25.6" textLength="26.3" lengthAdjust="spacingAndGlyphs">16</text>
<text x="490.3" y="1303.1" font-size="24.7" textLength="24.4" lengthAdjust="spacingAndGlyphs">15</text>
<polyline points="555.1,1307 478.3,1307 477.8,1490.3 832.5,1494.8 948.5,1496.6" stroke-width="2.9" fill="none"/>
<circle cx="952.6" cy="1497" r="3.3" fill="#fff" stroke-width="3.2"/>
<text x="962.3" y="1512.1" font-size="25.3" textLength="36.5" lengthAdjust="spacingAndGlyphs">VDD</text>
<polyline points="665.5,1310 721.2,1310.5 720.8,1365.2 832.7,1366.5" stroke-width="2.9" fill="none"/>
<line x1="608.8" y1="1364" x2="608.2" y2="1437.2" stroke-width="2.9"/>
<polyline points="478,1435 513.8,1435.6" stroke-width="2.9" fill="none"/>
<rect x="515.1" y="1431.7" width="55.6" height="9.8" rx="2" stroke-width="2.9" fill="#fff" transform="rotate(0.6 542.9 1436.6)"/>
<line x1="572" y1="1436.5" x2="638.5" y2="1437.3" stroke-width="2.9"/>
<rect x="640.2" y="1422.5" width="5.6" height="31" rx="2.5" stroke-width="3.1" fill="#fff" transform="rotate(0.6 643 1438)"/>
<line x1="652.3" y1="1422.6" x2="652.3" y2="1454.5" stroke-width="3.4"/>
<line x1="626.6" y1="1428.4" x2="633.8" y2="1428.4" stroke-width="2.7"/>
<line x1="630.2" y1="1424.8" x2="630.2" y2="1432" stroke-width="2.7"/>
<polyline points="652.3,1437.5 683,1437.8 682.8,1456.3" stroke-width="2.9" fill="none"/>
<line x1="664.3" y1="1456.3" x2="701.3" y2="1456.3" stroke-width="3.1"/>
<line x1="669.3" y1="1461.9" x2="696.3" y2="1461.9" stroke-width="3.1"/>
<line x1="675.1" y1="1467.7" x2="690.5" y2="1467.7" stroke-width="3.1"/>
<circle cx="682.8" cy="1472.8" r="1.7" fill="#353535" stroke="none"/>
<text x="521.3" y="1397.1" font-size="26.3" textLength="37.5" lengthAdjust="spacingAndGlyphs">R27</text>
<text x="520.2" y="1425.1" font-size="25.3" textLength="40" lengthAdjust="spacingAndGlyphs">100</text>
<text x="624.7" y="1407.5" font-size="25.3" textLength="24.9" lengthAdjust="spacingAndGlyphs">11</text>
<text x="699" y="1418.1" font-size="28.2" textLength="26.4" lengthAdjust="spacingAndGlyphs">C6</text>
<text x="701.4" y="1451.8" font-size="25.5" textLength="7.7" lengthAdjust="spacingAndGlyphs">1</text>
<text x="718.3" y="1448.7" font-size="19.9">&#181;</text>
<text x="816.4" y="397.6" font-size="25.5" textLength="12.6" lengthAdjust="spacingAndGlyphs">8</text>
<polyline points="806.3,408 806.8,355.2 770.3,354.8 770.3,372" stroke-width="2.9" fill="none"/>
<line x1="751.8" y1="372" x2="788.8" y2="372" stroke-width="3.1"/>
<line x1="756.8" y1="377.6" x2="783.8" y2="377.6" stroke-width="3.1"/>
<line x1="762.6" y1="383.4" x2="778" y2="383.4" stroke-width="3.1"/>
<circle cx="770.3" cy="388.5" r="1.7" fill="#353535" stroke="none"/>
<text x="795.7" y="448.7" font-size="24.7" textLength="38" lengthAdjust="spacingAndGlyphs">VSS</text>
<text x="804.7" y="655.1" font-size="24.7" textLength="12.5" lengthAdjust="spacingAndGlyphs">A</text>
<text x="802.4" y="766.1" font-size="25.6" textLength="12.7" lengthAdjust="spacingAndGlyphs">B</text>
<text x="800.5" y="912.1" font-size="26.3" textLength="14.8" lengthAdjust="spacingAndGlyphs">C</text>
<text x="799.4" y="1041.1" font-size="25.5" textLength="13.5" lengthAdjust="spacingAndGlyphs">D</text>
<text x="806.1" y="1132.7" font-size="28.7" textLength="35" lengthAdjust="spacingAndGlyphs">IC3</text>
<text x="798.6" y="1166.1" font-size="25.2" textLength="51.4" lengthAdjust="spacingAndGlyphs">C301</text>
<text x="797.7" y="1335.1" font-size="26.3" textLength="36.1" lengthAdjust="spacingAndGlyphs">VDD</text>
<text x="845.6" y="1391.5" font-size="25.3" textLength="26.3" lengthAdjust="spacingAndGlyphs">16</text>
<line x1="832.6" y1="1347.5" x2="832.5" y2="1495" stroke-width="2.9"/>
<text x="853.5" y="467.8" font-size="24.7" textLength="25.7" lengthAdjust="spacingAndGlyphs">Q0</text>
<text x="908.7" y="445.6" font-size="24.4" textLength="12.3" lengthAdjust="spacingAndGlyphs">3</text>
<text x="1019.3" y="446.3" font-size="25.6" textLength="23.9" lengthAdjust="spacingAndGlyphs">D1</text>
<text x="1111.7" y="440.1" font-size="27.8" textLength="36.9" lengthAdjust="spacingAndGlyphs">R13</text>
<line x1="899.1" y1="448.6" x2="966.8" y2="449.3" stroke-width="2.9"/>
<path d="M966.8,433.6 L986.3,449.8 L967.1,465.9 Z" fill="#fff" stroke-width="2.6"/>
<line x1="987.6" y1="432.6" x2="987.3" y2="467.4" stroke-width="4.5"/>
<line x1="974.2" y1="427.2" x2="981.2" y2="420.2" stroke-width="3.1"/>
<path d="M984,417.3 L981.4,424.6 L976.7,420 Z" fill="#353535" stroke-width="1.6" stroke-linejoin="round"/>
<line x1="989.9" y1="427.6" x2="996.3" y2="420.5" stroke-width="3.1"/>
<path d="M999,417.5 L996.8,425 L991.9,420.5 Z" fill="#353535" stroke-width="1.6" stroke-linejoin="round"/>
<line x1="987.8" y1="449.7" x2="1101.5" y2="451.1" stroke-width="2.9"/>
<rect x="1102.8" y="446.2" width="55.4" height="9.8" rx="2" stroke-width="2.9" fill="#fff" transform="rotate(0.6 1130.5 451.1)"/>
<line x1="1159.5" y1="451.7" x2="1258.7" y2="453.4" stroke-width="2.9"/>
<rect x="1251.2" y="435.1" width="74" height="35.9" rx="2.5" stroke-width="3.1" fill="#fff" transform="rotate(0.6 1288.2 453)"/>
<circle cx="1263.9" cy="453.5" r="5.2" fill="#fff" stroke-width="2.7"/>
<circle cx="1312.3" cy="454" r="5.2" fill="#fff" stroke-width="2.7"/>
<line x1="1267.6" y1="452" x2="1300.4" y2="437.4" stroke-width="2.9"/>
<polyline points="1288.4,472.5 1288.4,490 954.3,486.3 953.7,541.2" stroke-width="2.9" fill="none"/>
<line x1="1317.5" y1="454.2" x2="1495.5" y2="456.1" stroke-width="2.9"/>
<text x="855.6" y="548.1" font-size="24.7" textLength="24.7" lengthAdjust="spacingAndGlyphs">Q1</text>
<text x="900.6" y="529.1" font-size="27.8" textLength="21.9" lengthAdjust="spacingAndGlyphs">14</text>
<text x="1019.3" y="537.1" font-size="24" textLength="23.8" lengthAdjust="spacingAndGlyphs">D2</text>
<text x="1102.9" y="529.5" font-size="23.8" textLength="37.7" lengthAdjust="spacingAndGlyphs">R14</text>
<line x1="898.1" y1="540.5" x2="965.8" y2="541.2" stroke-width="2.9"/>
<path d="M965.8,525.5 L985.2,541.7 L966,557.8 Z" fill="#fff" stroke-width="2.6"/>
<line x1="986.5" y1="524.5" x2="986.2" y2="559.3" stroke-width="4.5"/>
<line x1="973.1" y1="519.1" x2="980.1" y2="512.1" stroke-width="3.1"/>
<path d="M983,509.2 L980.4,516.5 L975.7,511.9 Z" fill="#353535" stroke-width="1.6" stroke-linejoin="round"/>
<line x1="988.9" y1="519.5" x2="995.3" y2="512.4" stroke-width="3.1"/>
<path d="M998,509.4 L995.7,516.9 L990.8,512.4 Z" fill="#353535" stroke-width="1.6" stroke-linejoin="round"/>
<line x1="986.8" y1="541.6" x2="1100.6" y2="543" stroke-width="2.9"/>
<rect x="1101.9" y="538.1" width="55.4" height="9.8" rx="2" stroke-width="2.9" fill="#fff" transform="rotate(0.6 1129.6 543)"/>
<line x1="1158.6" y1="543.6" x2="1263.8" y2="545.3" stroke-width="2.9"/>
<circle cx="1176.1" cy="544.2" r="5.8" fill="#353535" stroke="none"/>
<rect x="1251.1" y="527" width="74" height="35.9" rx="2.5" stroke-width="3.1" fill="#fff" transform="rotate(0.6 1288.1 544.9)"/>
<circle cx="1263.8" cy="545.4" r="5.2" fill="none" stroke-width="2.7"/>
<line x1="1263.8" y1="545.4" x2="1268.5" y2="545.4" stroke-width="2.7"/>
<circle cx="1312.2" cy="545.9" r="5.2" fill="#fff" stroke-width="2.7"/>
<line x1="1267.5" y1="543.9" x2="1300.3" y2="529.3" stroke-width="2.9"/>
<polyline points="1288.3,564.4 1288.3,581.9 953.2,578.2 952.6,633.1" stroke-width="2.9" fill="none"/>
<line x1="1317.4" y1="546.1" x2="1362.3" y2="546.6" stroke-width="2.9"/>
<text x="854" y="642.1" font-size="24.7" textLength="26.3" lengthAdjust="spacingAndGlyphs">Q2</text>
<text x="906.8" y="628.1" font-size="24" textLength="12.7" lengthAdjust="spacingAndGlyphs">2</text>
<text x="1019" y="630.1" font-size="25.5" textLength="24.5" lengthAdjust="spacingAndGlyphs">D3</text>
<text x="1103.2" y="623.1" font-size="26.3" textLength="37.7" lengthAdjust="spacingAndGlyphs">R15</text>
<line x1="897.1" y1="632.4" x2="964.7" y2="633.1" stroke-width="2.9"/>
<path d="M964.7,617.4 L984.2,633.6 L965,649.7 Z" fill="#fff" stroke-width="2.6"/>
<line x1="985.5" y1="616.4" x2="985.2" y2="651.2" stroke-width="4.5"/>
<line x1="972.1" y1="611" x2="979.1" y2="604" stroke-width="3.1"/>
<path d="M981.9,601.1 L979.3,608.4 L974.6,603.8 Z" fill="#353535" stroke-width="1.6" stroke-linejoin="round"/>
<line x1="987.8" y1="611.4" x2="994.2" y2="604.3" stroke-width="3.1"/>
<path d="M996.9,601.3 L994.7,608.8 L989.8,604.3 Z" fill="#353535" stroke-width="1.6" stroke-linejoin="round"/>
<line x1="985.7" y1="633.5" x2="1099.7" y2="634.9" stroke-width="2.9"/>
<rect x="1101" y="630" width="55.4" height="9.8" rx="2" stroke-width="2.9" fill="#fff" transform="rotate(0.6 1128.7 634.9)"/>
<line x1="1157.7" y1="635.5" x2="1263.7" y2="637.2" stroke-width="2.9"/>
<circle cx="1175" cy="636.1" r="5.8" fill="#353535" stroke="none"/>
<rect x="1251" y="618.9" width="74" height="35.9" rx="2.5" stroke-width="3.1" fill="#fff" transform="rotate(0.6 1288 636.8)"/>
<circle cx="1263.7" cy="637.3" r="5.2" fill="none" stroke-width="2.7"/>
<line x1="1263.7" y1="637.3" x2="1268.4" y2="637.3" stroke-width="2.7"/>
<circle cx="1312.1" cy="637.8" r="5.2" fill="#fff" stroke-width="2.7"/>
<line x1="1267.4" y1="635.8" x2="1300.2" y2="621.2" stroke-width="2.9"/>
<polyline points="1288.2,656.3 1288.2,673.8 952.1,670.1 951.5,725" stroke-width="2.9" fill="none"/>
<line x1="1317.3" y1="638" x2="1362" y2="638.5" stroke-width="2.9"/>
<text x="852.1" y="736.6" font-size="24" textLength="24.8" lengthAdjust="spacingAndGlyphs">Q3</text>
<text x="899" y="711.1" font-size="24.7" textLength="22" lengthAdjust="spacingAndGlyphs">15</text>
<text x="1017.3" y="723.5" font-size="24.4" textLength="24.1" lengthAdjust="spacingAndGlyphs">D4</text>
<text x="1100.2" y="714.6" font-size="25.5" textLength="40.6" lengthAdjust="spacingAndGlyphs">R16</text>
<line x1="896.1" y1="724.3" x2="963.6" y2="725" stroke-width="2.9"/>
<path d="M963.6,709.3 L983.1,725.5 L963.9,741.6 Z" fill="#fff" stroke-width="2.6"/>
<line x1="984.4" y1="708.3" x2="984.1" y2="743.1" stroke-width="4.5"/>
<line x1="971" y1="702.9" x2="978" y2="695.9" stroke-width="3.1"/>
<path d="M980.9,693 L978.3,700.3 L973.6,695.7 Z" fill="#353535" stroke-width="1.6" stroke-linejoin="round"/>
<line x1="986.8" y1="703.3" x2="993.2" y2="696.2" stroke-width="3.1"/>
<path d="M995.9,693.2 L993.6,700.7 L988.7,696.2 Z" fill="#353535" stroke-width="1.6" stroke-linejoin="round"/>
<line x1="984.6" y1="725.4" x2="1098.7" y2="726.8" stroke-width="2.9"/>
<rect x="1100" y="721.9" width="55.4" height="9.8" rx="2" stroke-width="2.9" fill="#fff" transform="rotate(0.6 1127.7 726.8)"/>
<line x1="1156.7" y1="727.4" x2="1264.1" y2="729.1" stroke-width="2.9"/>
<circle cx="1173.9" cy="728" r="5.8" fill="#353535" stroke="none"/>
<rect x="1251.4" y="710.8" width="74" height="35.9" rx="2.5" stroke-width="3.1" fill="#fff" transform="rotate(0.6 1288.4 728.8)"/>
<circle cx="1264.1" cy="729.2" r="5.2" fill="none" stroke-width="2.7"/>
<line x1="1264.1" y1="729.2" x2="1268.8" y2="729.2" stroke-width="2.7"/>
<circle cx="1312.5" cy="729.7" r="5.2" fill="#fff" stroke-width="2.7"/>
<line x1="1267.8" y1="727.7" x2="1300.6" y2="713.1" stroke-width="2.9"/>
<polyline points="1288.6,748.2 1288.6,765.7 951,762 950.4,816.9" stroke-width="2.9" fill="none"/>
<line x1="1317.7" y1="729.9" x2="1361.5" y2="730.4" stroke-width="2.9"/>
<text x="850" y="832.1" font-size="23.2" textLength="26.4" lengthAdjust="spacingAndGlyphs">Q4</text>
<text x="906.1" y="812.1" font-size="24.7" textLength="10.2" lengthAdjust="spacingAndGlyphs">1</text>
<text x="1017.4" y="815.7" font-size="25.6" textLength="22.4" lengthAdjust="spacingAndGlyphs">D5</text>
<text x="1100.3" y="806.8" font-size="27.3" textLength="37.1" lengthAdjust="spacingAndGlyphs">R17</text>
<line x1="895.1" y1="816.2" x2="962.6" y2="816.9" stroke-width="2.9"/>
<path d="M962.6,801.2 L982.1,817.4 L962.9,833.5 Z" fill="#fff" stroke-width="2.6"/>
<line x1="983.4" y1="800.2" x2="983.1" y2="835" stroke-width="4.5"/>
<line x1="970" y1="794.8" x2="977" y2="787.8" stroke-width="3.1"/>
<path d="M979.8,784.9 L977.2,792.2 L972.5,787.6 Z" fill="#353535" stroke-width="1.6" stroke-linejoin="round"/>
<line x1="985.7" y1="795.2" x2="992.1" y2="788.1" stroke-width="3.1"/>
<path d="M994.8,785.1 L992.6,792.6 L987.7,788.1 Z" fill="#353535" stroke-width="1.6" stroke-linejoin="round"/>
<line x1="983.6" y1="817.3" x2="1097.8" y2="818.7" stroke-width="2.9"/>
<rect x="1099.1" y="813.8" width="55.4" height="9.8" rx="2" stroke-width="2.9" fill="#fff" transform="rotate(0.6 1126.8 818.7)"/>
<line x1="1155.8" y1="819.3" x2="1263.5" y2="821" stroke-width="2.9"/>
<circle cx="1172.8" cy="819.9" r="5.8" fill="#353535" stroke="none"/>
<rect x="1250.8" y="802.7" width="74" height="35.9" rx="2.5" stroke-width="3.1" fill="#fff" transform="rotate(0.6 1287.8 820.7)"/>
<circle cx="1263.5" cy="821.1" r="5.2" fill="none" stroke-width="2.7"/>
<line x1="1263.5" y1="821.1" x2="1268.2" y2="821.1" stroke-width="2.7"/>
<circle cx="1311.9" cy="821.6" r="5.2" fill="#fff" stroke-width="2.7"/>
<line x1="1267.2" y1="819.6" x2="1300" y2="805" stroke-width="2.9"/>
<polyline points="1288,840.1 1288,857.6 949.9,853.9 949.3,908.8" stroke-width="2.9" fill="none"/>
<line x1="1317.1" y1="821.8" x2="1360.6" y2="822.3" stroke-width="2.9"/>
<text x="846.6" y="923.1" font-size="24.7" textLength="26.3" lengthAdjust="spacingAndGlyphs">Q5</text>
<text x="902.8" y="904.1" font-size="26.3" textLength="13.1" lengthAdjust="spacingAndGlyphs">6</text>
<text x="1015.3" y="906.1" font-size="24.7" textLength="24.4" lengthAdjust="spacingAndGlyphs">D6</text>
<text x="1098.8" y="897.1" font-size="25.2" textLength="38.8" lengthAdjust="spacingAndGlyphs">R18</text>
<line x1="894.1" y1="908.1" x2="961.5" y2="908.8" stroke-width="2.9"/>
<path d="M961.5,893.1 L981,909.3 L961.8,925.4 Z" fill="#fff" stroke-width="2.6"/>
<line x1="982.3" y1="892.1" x2="982" y2="926.9" stroke-width="4.5"/>
<line x1="968.9" y1="886.7" x2="975.9" y2="879.7" stroke-width="3.1"/>
<path d="M978.8,876.8 L976.2,884.1 L971.5,879.5 Z" fill="#353535" stroke-width="1.6" stroke-linejoin="round"/>
<line x1="984.6" y1="887.1" x2="991.1" y2="880" stroke-width="3.1"/>
<path d="M993.8,877 L991.5,884.5 L986.6,880 Z" fill="#353535" stroke-width="1.6" stroke-linejoin="round"/>
<line x1="982.5" y1="909.2" x2="1096.9" y2="910.6" stroke-width="2.9"/>
<rect x="1098.2" y="905.7" width="55.4" height="9.8" rx="2" stroke-width="2.9" fill="#fff" transform="rotate(0.6 1125.9 910.6)"/>
<line x1="1154.9" y1="911.2" x2="1262.1" y2="912.9" stroke-width="2.9"/>
<circle cx="1171.7" cy="911.8" r="5.8" fill="#353535" stroke="none"/>
<rect x="1249.4" y="894.6" width="74" height="35.9" rx="2.5" stroke-width="3.1" fill="#fff" transform="rotate(0.6 1286.4 912.6)"/>
<circle cx="1262.1" cy="913" r="5.2" fill="none" stroke-width="2.7"/>
<line x1="1262.1" y1="913" x2="1266.8" y2="913" stroke-width="2.7"/>
<circle cx="1310.5" cy="913.5" r="5.2" fill="#fff" stroke-width="2.7"/>
<line x1="1265.8" y1="911.5" x2="1298.6" y2="896.9" stroke-width="2.9"/>
<polyline points="1286.6,932 1286.6,949.5 948.8,945.8 948.2,1000.7" stroke-width="2.9" fill="none"/>
<line x1="1315.7" y1="913.7" x2="1359.8" y2="914.2" stroke-width="2.9"/>
<text x="846" y="1004.1" font-size="26.3" textLength="25.7" lengthAdjust="spacingAndGlyphs">Q6</text>
<text x="900.8" y="995.1" font-size="24.7" textLength="13.1" lengthAdjust="spacingAndGlyphs">7</text>
<text x="1013.7" y="998.5" font-size="24.4" textLength="23.9" lengthAdjust="spacingAndGlyphs">D7</text>
<text x="1097.2" y="989.6" font-size="25.5" textLength="39.9" lengthAdjust="spacingAndGlyphs">R19</text>
<line x1="893.1" y1="1000" x2="960.5" y2="1000.7" stroke-width="2.9"/>
<path d="M960.5,985 L980,1001.2 L960.8,1017.3 Z" fill="#fff" stroke-width="2.6"/>
<line x1="981.3" y1="984" x2="981" y2="1018.8" stroke-width="4.5"/>
<line x1="967.9" y1="978.6" x2="974.9" y2="971.6" stroke-width="3.1"/>
<path d="M977.7,968.7 L975.1,976 L970.4,971.4 Z" fill="#353535" stroke-width="1.6" stroke-linejoin="round"/>
<line x1="983.6" y1="979" x2="990" y2="971.9" stroke-width="3.1"/>
<path d="M992.7,968.9 L990.5,976.4 L985.6,971.9 Z" fill="#353535" stroke-width="1.6" stroke-linejoin="round"/>
<line x1="981.5" y1="1001.1" x2="1096" y2="1002.5" stroke-width="2.9"/>
<rect x="1097.3" y="997.6" width="55.4" height="9.8" rx="2" stroke-width="2.9" fill="#fff" transform="rotate(0.6 1125 1002.5)"/>
<line x1="1154" y1="1003.1" x2="1261.1" y2="1004.8" stroke-width="2.9"/>
<circle cx="1170.6" cy="1003.7" r="5.8" fill="#353535" stroke="none"/>
<rect x="1248.4" y="986.5" width="74" height="35.9" rx="2.5" stroke-width="3.1" fill="#fff" transform="rotate(0.6 1285.4 1004.5)"/>
<circle cx="1261.1" cy="1004.9" r="5.2" fill="none" stroke-width="2.7"/>
<line x1="1261.1" y1="1004.9" x2="1265.8" y2="1004.9" stroke-width="2.7"/>
<circle cx="1309.5" cy="1005.4" r="5.2" fill="#fff" stroke-width="2.7"/>
<line x1="1264.8" y1="1003.4" x2="1297.6" y2="988.8" stroke-width="2.9"/>
<polyline points="1285.6,1023.9 1285.6,1041.4 947.7,1037.7 947.1,1092.6" stroke-width="2.9" fill="none"/>
<line x1="1314.7" y1="1005.6" x2="1358.5" y2="1006.1" stroke-width="2.9"/>
<text x="845.1" y="1105.1" font-size="24.7" textLength="24.6" lengthAdjust="spacingAndGlyphs">Q7</text>
<text x="902.1" y="1088.1" font-size="24" textLength="11.4" lengthAdjust="spacingAndGlyphs">4</text>
<text x="1013.3" y="1090.1" font-size="25.5" textLength="24.5" lengthAdjust="spacingAndGlyphs">D8</text>
<text x="1097.2" y="1081.1" font-size="25.3" textLength="38.8" lengthAdjust="spacingAndGlyphs">R20</text>
<line x1="892.2" y1="1091.9" x2="959.4" y2="1092.6" stroke-width="2.9"/>
<path d="M959.4,1076.9 L978.9,1093.1 L959.7,1109.2 Z" fill="#fff" stroke-width="2.6"/>
<line x1="980.2" y1="1075.9" x2="979.9" y2="1110.7" stroke-width="4.5"/>
<line x1="966.8" y1="1070.5" x2="973.8" y2="1063.5" stroke-width="3.1"/>
<path d="M976.6,1060.6 L974.1,1067.9 L969.4,1063.3 Z" fill="#353535" stroke-width="1.6" stroke-linejoin="round"/>
<line x1="982.5" y1="1070.9" x2="989" y2="1063.8" stroke-width="3.1"/>
<path d="M991.6,1060.8 L989.4,1068.2 L984.5,1063.8 Z" fill="#353535" stroke-width="1.6" stroke-linejoin="round"/>
<line x1="980.4" y1="1093" x2="1095.1" y2="1094.4" stroke-width="2.9"/>
<rect x="1096.4" y="1089.5" width="55.4" height="9.8" rx="2" stroke-width="2.9" fill="#fff" transform="rotate(0.6 1124.1 1094.4)"/>
<line x1="1153.1" y1="1095" x2="1259.9" y2="1096.7" stroke-width="2.9"/>
<circle cx="1169.5" cy="1095.6" r="5.8" fill="#353535" stroke="none"/>
<rect x="1247.2" y="1078.4" width="74" height="35.9" rx="2.5" stroke-width="3.1" fill="#fff" transform="rotate(0.6 1284.2 1096.4)"/>
<circle cx="1259.9" cy="1096.8" r="5.2" fill="none" stroke-width="2.7"/>
<line x1="1259.9" y1="1096.8" x2="1264.6" y2="1096.8" stroke-width="2.7"/>
<circle cx="1308.3" cy="1097.3" r="5.2" fill="#fff" stroke-width="2.7"/>
<line x1="1263.6" y1="1095.3" x2="1296.4" y2="1080.7" stroke-width="2.9"/>
<polyline points="1284.4,1115.8 1284.4,1133.3 946.6,1129.6 946,1184.5" stroke-width="2.9" fill="none"/>
<text x="843" y="1206.1" font-size="23.8" textLength="25.4" lengthAdjust="spacingAndGlyphs">Q8</text>
<text x="900.1" y="1179.1" font-size="24.7" textLength="12" lengthAdjust="spacingAndGlyphs">9</text>
<text x="1011.9" y="1182.1" font-size="25.2" textLength="24.5" lengthAdjust="spacingAndGlyphs">D9</text>
<text x="1095.3" y="1175.1" font-size="27.8" textLength="37.2" lengthAdjust="spacingAndGlyphs">R21</text>
<line x1="891.2" y1="1183.8" x2="958.4" y2="1184.5" stroke-width="2.9"/>
<path d="M958.4,1168.8 L977.9,1185 L958.7,1201.1 Z" fill="#fff" stroke-width="2.6"/>
<line x1="979.2" y1="1167.8" x2="978.9" y2="1202.6" stroke-width="4.5"/>
<line x1="965.8" y1="1162.4" x2="972.8" y2="1155.4" stroke-width="3.1"/>
<path d="M975.6,1152.5 L973,1159.8 L968.3,1155.2 Z" fill="#353535" stroke-width="1.6" stroke-linejoin="round"/>
<line x1="981.5" y1="1162.8" x2="987.9" y2="1155.7" stroke-width="3.1"/>
<path d="M990.6,1152.7 L988.4,1160.1 L983.5,1155.7 Z" fill="#353535" stroke-width="1.6" stroke-linejoin="round"/>
<line x1="979.4" y1="1184.9" x2="1094.1" y2="1186.3" stroke-width="2.9"/>
<rect x="1095.4" y="1181.4" width="55.4" height="9.8" rx="2" stroke-width="2.9" fill="#fff" transform="rotate(0.6 1123.1 1186.3)"/>
<line x1="1152.1" y1="1186.9" x2="1168.4" y2="1187.1" stroke-width="2.9"/>
<circle cx="1168.4" cy="1187.4" r="5.8" fill="#353535" stroke="none"/>
<line x1="1168.4" y1="1187.1" x2="1487" y2="1190.3" stroke-width="2.9"/>
<text x="842" y="1280.6" font-size="24" textLength="25.9" lengthAdjust="spacingAndGlyphs">Q9</text>
<text x="899.6" y="1271.1" font-size="24.7" textLength="10.8" lengthAdjust="spacingAndGlyphs">5</text>
<text x="990.3" y="1274.6" font-size="25.5" textLength="38.7" lengthAdjust="spacingAndGlyphs">D10</text>
<text x="1093.2" y="1265.7" font-size="25.6" textLength="39.2" lengthAdjust="spacingAndGlyphs">R22</text>
<line x1="890.2" y1="1275.7" x2="957.3" y2="1276.4" stroke-width="2.9"/>
<path d="M957.3,1260.7 L976.8,1276.9 L957.6,1293 Z" fill="#fff" stroke-width="2.6"/>
<line x1="978.1" y1="1259.7" x2="977.8" y2="1294.5" stroke-width="4.5"/>
<line x1="964.7" y1="1254.3" x2="971.7" y2="1247.3" stroke-width="3.1"/>
<path d="M974.5,1244.4 L972,1251.7 L967.3,1247.1 Z" fill="#353535" stroke-width="1.6" stroke-linejoin="round"/>
<line x1="980.4" y1="1254.7" x2="986.9" y2="1247.6" stroke-width="3.1"/>
<path d="M989.5,1244.6 L987.3,1252 L982.4,1247.6 Z" fill="#353535" stroke-width="1.6" stroke-linejoin="round"/>
<line x1="978.3" y1="1276.8" x2="1093.2" y2="1278.2" stroke-width="2.9"/>
<rect x="1094.5" y="1273.3" width="55.4" height="9.8" rx="2" stroke-width="2.9" fill="#fff" transform="rotate(0.6 1122.2 1278.2)"/>
<line x1="1151.2" y1="1278.8" x2="1167.3" y2="1279" stroke-width="2.9"/>
<line x1="1177.2" y1="451.5" x2="1168.2" y2="1370" stroke-width="2.9"/>
<line x1="1149.7" y1="1370" x2="1186.7" y2="1370" stroke-width="3.1"/>
<line x1="1154.7" y1="1375.6" x2="1181.7" y2="1375.6" stroke-width="3.1"/>
<line x1="1160.5" y1="1381.4" x2="1175.9" y2="1381.4" stroke-width="3.1"/>
<circle cx="1168.2" cy="1386.5" r="1.7" fill="#353535" stroke="none"/>
<text x="1225.2" y="1249.3" font-size="27.2" textLength="77.9" lengthAdjust="spacingAndGlyphs">R13-22</text>
<text x="1317.8" y="1249.3" font-size="27.2" textLength="23.4" lengthAdjust="spacingAndGlyphs">1k</text>
<line x1="1350" y1="1233.5" x2="1366.5" y2="1249.3" stroke-width="2.5"/>
<line x1="1350" y1="1249.3" x2="1366.5" y2="1233.5" stroke-width="2.5"/>
<text x="1376.4" y="1249.3" font-size="27.2" textLength="24.4" lengthAdjust="spacingAndGlyphs">10</text>
<text x="1375.3" y="514.7" font-size="25.6" textLength="25" lengthAdjust="spacingAndGlyphs">R6</text>
<line x1="1361.9" y1="453.1" x2="1361.9" y2="470.6" stroke-width="2.9"/>
<rect x="1356.6" y="471.9" width="10.6" height="53.2" rx="2" stroke-width="2.9" fill="#fff" transform="rotate(0.6 1361.9 498.5)"/>
<line x1="1361.9" y1="526.4" x2="1362.3" y2="545.1" stroke-width="2.9"/>
<text x="1377" y="600.1" font-size="26.3" textLength="23.1" lengthAdjust="spacingAndGlyphs">R7</text>
<line x1="1362.3" y1="545.1" x2="1362.3" y2="562.6" stroke-width="2.9"/>
<rect x="1357" y="563.9" width="10.6" height="53.2" rx="2" stroke-width="2.9" fill="#fff" transform="rotate(0.6 1362.3 590.5)"/>
<line x1="1362.3" y1="618.4" x2="1362" y2="637.1" stroke-width="2.9"/>
<text x="1380.3" y="694.1" font-size="26.3" textLength="24.6" lengthAdjust="spacingAndGlyphs">R8</text>
<line x1="1362" y1="637.1" x2="1362" y2="654.6" stroke-width="2.9"/>
<rect x="1356.7" y="655.9" width="10.6" height="53.2" rx="2" stroke-width="2.9" fill="#fff" transform="rotate(0.6 1362 682.5)"/>
<line x1="1362" y1="710.4" x2="1361.5" y2="729.1" stroke-width="2.9"/>
<text x="1380.3" y="786.4" font-size="24" textLength="24.7" lengthAdjust="spacingAndGlyphs">R9</text>
<line x1="1361.5" y1="729.1" x2="1361.5" y2="746.6" stroke-width="2.9"/>
<rect x="1356.2" y="747.9" width="10.6" height="53.2" rx="2" stroke-width="2.9" fill="#fff" transform="rotate(0.6 1361.5 774.5)"/>
<line x1="1361.5" y1="802.4" x2="1360.6" y2="821.1" stroke-width="2.9"/>
<text x="1375.8" y="874.1" font-size="25.3" textLength="38.1" lengthAdjust="spacingAndGlyphs">R10</text>
<line x1="1360.6" y1="821.1" x2="1360.6" y2="838.6" stroke-width="2.9"/>
<rect x="1355.3" y="839.9" width="10.6" height="53.2" rx="2" stroke-width="2.9" fill="#fff" transform="rotate(0.6 1360.6 866.5)"/>
<line x1="1360.6" y1="894.4" x2="1359.8" y2="913.1" stroke-width="2.9"/>
<text x="1373.3" y="968.1" font-size="25.2" textLength="35.7" lengthAdjust="spacingAndGlyphs">R11</text>
<line x1="1359.8" y1="913.1" x2="1359.8" y2="930.6" stroke-width="2.9"/>
<rect x="1354.5" y="931.9" width="10.6" height="53.2" rx="2" stroke-width="2.9" fill="#fff" transform="rotate(0.6 1359.8 958.5)"/>
<line x1="1359.8" y1="986.4" x2="1358.5" y2="1005.1" stroke-width="2.9"/>
<text x="1375.2" y="1062.1" font-size="26.9" textLength="38.1" lengthAdjust="spacingAndGlyphs">R12</text>
<line x1="1358.5" y1="1005.1" x2="1358.5" y2="1022.6" stroke-width="2.9"/>
<rect x="1353.2" y="1023.9" width="10.6" height="53.2" rx="2" stroke-width="2.9" fill="#fff" transform="rotate(0.6 1358.5 1050.5)"/>
<line x1="1358.4" y1="1077.8" x2="1358.2" y2="1096.2" stroke-width="2.9"/>
<line x1="1340.3" y1="1096" x2="1455" y2="1097.3" stroke-width="2.9"/>
<text x="1295.7" y="513.1" font-size="23.8" textLength="24.8" lengthAdjust="spacingAndGlyphs">S1</text>
<text x="1296.3" y="606.1" font-size="24.7" textLength="25.1" lengthAdjust="spacingAndGlyphs">S2</text>
<text x="1296.3" y="697.1" font-size="24.7" textLength="24.7" lengthAdjust="spacingAndGlyphs">S3</text>
<text x="1296.3" y="788.4" font-size="24.1" textLength="24.8" lengthAdjust="spacingAndGlyphs">S4</text>
<text x="1295.3" y="881.1" font-size="25.2" textLength="25.8" lengthAdjust="spacingAndGlyphs">S5</text>
<text x="1293.2" y="973.6" font-size="25.5" textLength="26.6" lengthAdjust="spacingAndGlyphs">S6</text>
<text x="1292.3" y="1064.6" font-size="21.4" textLength="24.7" lengthAdjust="spacingAndGlyphs">S7</text>
<text x="1290.2" y="1144.6" font-size="23.2" textLength="26.6" lengthAdjust="spacingAndGlyphs">S8</text>
<line x1="1495.5" y1="454.6" x2="1489" y2="1060.6" stroke-width="2.9"/>
<line x1="1456.7" y1="1072.7" x2="1456.7" y2="1126" stroke-width="6.7"/>
<polyline points="1460.4,1088.5 1488.3,1060.6" stroke-width="3.1" fill="none"/>
<polyline points="1460.4,1106.7 1487,1132 1487,1190.3" stroke-width="3.1" fill="none"/>
<path d="M1488,1133.5 L1470.5,1125.5 L1479.5,1116 Z" fill="#353535" stroke-width="1.5"/>
<text x="1498.3" y="1091.1" font-size="24.7" textLength="38.4" lengthAdjust="spacingAndGlyphs">BG3</text>
<text x="1498.1" y="1119.1" font-size="25.3" textLength="51.4" lengthAdjust="spacingAndGlyphs">9012</text>
<line x1="1233" y1="415" x2="1227.1" y2="1151.5" stroke-width="2" stroke-dasharray="49 24" stroke-dashoffset="24"/>
<line x1="1343.6" y1="415.5" x2="1339.1" y2="1151.5" stroke-width="2" stroke-dasharray="49 24" stroke-dashoffset="24"/>
<line x1="1233" y1="415" x2="1251.6" y2="415.2" stroke-width="2.2"/>
<line x1="1270.4" y1="415.4" x2="1304" y2="415.8" stroke-width="2.2"/>
<line x1="1321.3" y1="416" x2="1343.6" y2="416.2" stroke-width="2.2"/>
<line x1="1232" y1="783.4" x2="1250" y2="783.6" stroke-width="2.2"/>
<line x1="1269.6" y1="783.8" x2="1341" y2="784.6" stroke-width="2.2"/>
<line x1="1227" y1="1151.2" x2="1247" y2="1151.4" stroke-width="2.2"/>
<line x1="1264" y1="1151.6" x2="1339.1" y2="1152.4" stroke-width="2.2"/>
<text transform="translate(1480.2,881.7) rotate(-90)" x="-0" y="0" font-size="25.6" textLength="37.5" lengthAdjust="spacingAndGlyphs">IC4</text>
<circle cx="1478.8" cy="838.6" r="2.4" fill="#353535" stroke="none"/>
<line x1="1479.5" y1="840" x2="1484.6" y2="840.8" stroke-width="2.1"/>
<text transform="translate(1480.2,827.8) rotate(-90)" x="0" y="0" font-size="25.6" textLength="36.8" lengthAdjust="spacingAndGlyphs">IC5</text>
<text transform="translate(1480.2,776.7) rotate(-90)" x="-0.1" y="0" font-size="25.6" textLength="52" lengthAdjust="spacingAndGlyphs">0544</text>
<text transform="translate(1513.6,896.9) rotate(-90)" x="0" y="0" font-size="24.9" textLength="83.3" lengthAdjust="spacingAndGlyphs">R6~12</text>
<text transform="translate(1513.6,788.7) rotate(-90)" x="-1.2" y="0" font-size="24.9" textLength="36.6" lengthAdjust="spacingAndGlyphs">120</text>
<line x1="1498.5" y1="750.8" x2="1513.5" y2="730.5" stroke-width="2.4"/>
<line x1="1498.5" y1="730.5" x2="1513.5" y2="750.8" stroke-width="2.4"/>
<text transform="translate(1513.6,727) rotate(-90)" x="-1.3" y="0" font-size="24.9" textLength="16.5" lengthAdjust="spacingAndGlyphs">7</text>
</g></svg></body></html>
